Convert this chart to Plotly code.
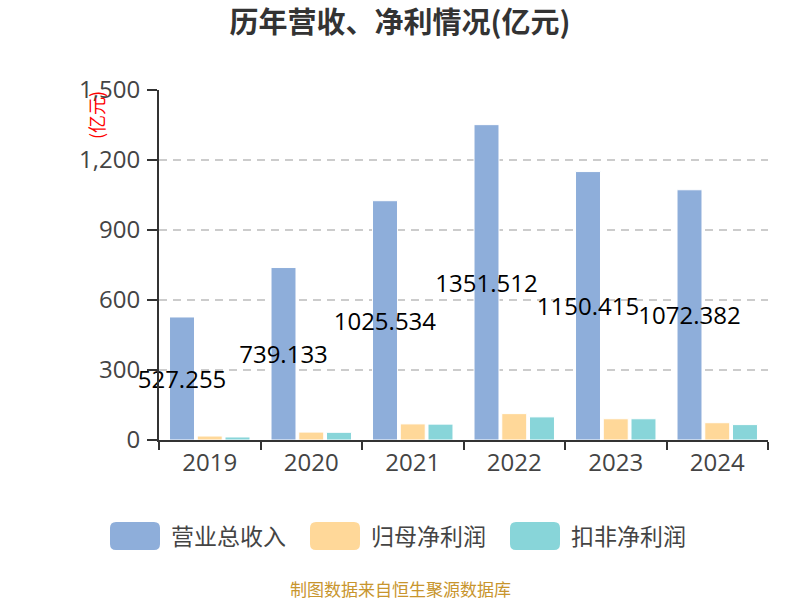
import plotly.graph_objects as go

years = ["2019", "2020", "2021", "2022", "2023", "2024"]
revenue = [527.255, 739.133, 1025.534, 1351.512, 1150.415, 1072.382]
net_profit = [17, 34, 69, 113, 91, 74]
deducted_profit = [13, 33, 68, 99, 91, 66]
series_names = ["营业总收入", "归母净利润", "扣非净利润"]
colors = ["#8EAEDA", "#FFD899", "#88D5D9"]
y_ticks = [0, 300, 600, 900, 1200, 1500]

FONT = "Open Sans, Noto Sans CJK SC, sans-serif"
CJK = "Noto Sans CJK SC, sans-serif"

# plot area in pixels
L, R, T, B = 159, 768, 90, 440
W, H = R - L, B - T


def px(x):
    return (x - L) / W


def py(y):
    return (B - y) / H


def rrect(x0, y0, x1, y1, r):
    return (
        f"M {px(x0 + r)},{py(y0)} L {px(x1 - r)},{py(y0)} "
        f"Q {px(x1)},{py(y0)} {px(x1)},{py(y0 + r)} "
        f"L {px(x1)},{py(y1 - r)} Q {px(x1)},{py(y1)} {px(x1 - r)},{py(y1)} "
        f"L {px(x0 + r)},{py(y1)} Q {px(x0)},{py(y1)} {px(x0)},{py(y1 - r)} "
        f"L {px(x0)},{py(y0 + r)} Q {px(x0)},{py(y0)} {px(x0 + r)},{py(y0)} Z"
    )


fig = go.Figure()
values = [revenue, net_profit, deducted_profit]
for i, (name, vals) in enumerate(zip(series_names, values)):
    kw = {}
    if i == 0:
        kw = dict(
            text=[f"{v:.3f}" for v in vals],
            textposition="inside",
            insidetextanchor="middle",
            textangle=0,
            constraintext="none",
            insidetextfont=dict(family=FONT, size=24, color="#000000"),
        )
    fig.add_trace(
        go.Bar(
            x=years,
            y=vals,
            name=name,
            marker=dict(color=colors[i], line=dict(color="#ffffff", width=1)),
            showlegend=False,
            cliponaxis=False,
            **kw,
        )
    )

shapes = []
annotations = []
# manual legend
for i, name in enumerate(series_names):
    sx = 110 + 200 * i
    shapes.append(
        dict(
            type="path",
            xref="paper",
            yref="paper",
            path=rrect(sx, 522, sx + 50, 550, 6),
            fillcolor=colors[i],
            line=dict(width=0),
        )
    )
    annotations.append(
        dict(
            x=px(sx + 59),
            y=py(535),
            xref="paper",
            yref="paper",
            xanchor="left",
            yanchor="middle",
            text=name,
            showarrow=False,
            font=dict(family=CJK, size=23, color="#444444"),
        )
    )

annotations.append(
    dict(
        x=px(96),
        y=py(115),
        xref="paper",
        yref="paper",
        text="(亿元)",
        textangle=-90,
        showarrow=False,
        xanchor="center",
        yanchor="middle",
        font=dict(family=CJK, size=18, color="#ff0000"),
    )
)
annotations.append(
    dict(
        x=px(400),
        y=py(588),
        xref="paper",
        yref="paper",
        text="制图数据来自恒生聚源数据库",
        showarrow=False,
        xanchor="center",
        yanchor="middle",
        font=dict(family=CJK, size=17, color="#C8952D"),
    )
)

fig.update_layout(
    width=800,
    height=600,
    margin=dict(l=L, r=800 - R, t=T, b=600 - B),
    paper_bgcolor="#ffffff",
    plot_bgcolor="#ffffff",
    barmode="group",
    bargap=0.18,
    bargroupgap=0.1,
    title=dict(
        text="<b>历年营收、净利情况(亿元)</b>",
        x=0.5,
        xref="container",
        xanchor="center",
        y=1 - 23 / 600,
        yref="container",
        yanchor="middle",
        font=dict(family=CJK, size=29, color="#333333"),
    ),
    xaxis=dict(
        type="category",
        showline=True,
        linecolor="#333333",
        linewidth=2,
        ticks="outside",
        tickson="boundaries",
        ticklen=8,
        tickwidth=2,
        tickcolor="#333333",
        showgrid=False,
        tickfont=dict(family=FONT, size=24, color="#444444"),
    ),
    yaxis=dict(
        range=[0, 1500],
        tickvals=y_ticks,
        tickformat=",d",
        showline=True,
        linecolor="#333333",
        linewidth=2,
        ticks="outside",
        ticklen=10,
        tickwidth=2,
        tickcolor="#333333",
        showgrid=True,
        gridcolor="#cccccc",
        gridwidth=1.5,
        griddash="8px,6px",
        zeroline=False,
        ticklabelstandoff=2,
        tickfont=dict(family=FONT, size=24, color="#444444"),
    ),
    shapes=shapes,
    annotations=annotations,
)

fig.write_html(
    "out.html",
    config={"displayModeBar": False},
    post_script="document.body.style.margin='0';document.body.style.padding='0';",
)
